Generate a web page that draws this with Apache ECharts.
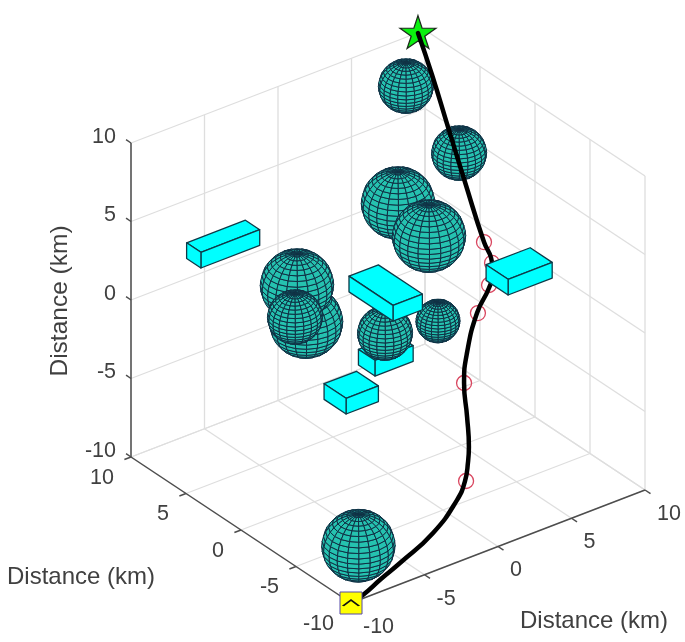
<!DOCTYPE html>
<html>
<head>
<meta charset="utf-8">
<style>html,body{margin:0;padding:0;background:#fff}#c{width:685px;height:642px;filter:blur(0.45px)}</style>
<script src="https://cdn.jsdelivr.net/npm/echarts@6/dist/echarts.min.js"></script>
</head>
<body>
<div id="c"></div>
<script>
// ---------- data (km) ----------
const tickValues = [-10, -5, 0, 5, 10];
const axisTitle = "Distance (km)";

const sphereX = [0.16, -0.83, -3.02, 5.76, 4.95, -0.18, 3.9, 7.58, -8, 7.56];
const sphereY = [8.49, 6.34, 4.42, 6.79, 2.89, 0.03, 0.67, 8.5, -8, 3.64];
const sphereZ = [-2, -3, -1, 2, 2, -1, -2, 8, -8, 6];
const sphereR = [2, 2, 1.5, 2, 2, 1.5, 1.2, 1.5, 2, 1.5];

const boxX  = [-6.95, -3.04, -0.35, -0.08, 5.55];
const boxY  = [7.72, -0.25, 0.72, -0.56, -3.5];
const boxZ  = [2, -5, -4, 0, 1];
const boxDX = [4, 2.2, 2.6, 2, 3];
const boxDY = [1.3, 2, 1.5, 4, 2];
const boxDZ = [1, 1, 1, 1, 1];

const pathX = [-10, -9.07, -7.56, -6.01, -3.55, -1.81, -1.25, -0.7, -0.4, -0.06, 0.49, 1.54, 3.04, 4.16, 4.76, 5.18, 5.4, 6.95, 7.75, 8.91, 9.5];
const pathY = [-10, -9.84, -9.46, -9.12, -8.84, -8.69, -8.67, -8.21, -7.89, -7.27, -6.26, -5.12, -4.03, -3.62, -3.18, -2.45, -1.51, 2.29, 4.9, 7.9, 9.97];
const pathZ = [-10, -9.9, -9.6, -9.3, -8.4, -7, -6, -5.2, -4.5, -3, -1.5, -0.5, 1, 2, 2.6, 3, 3.5, 5, 7, 8.5, 10];

const waypointX = [5.4, 4.9, 4.36, 3.08, 0.49, -1.2];
const waypointY = [-1.51, -2.91, -3.36, -4.06, -6.26, -8.7];
const waypointZ = [3.5, 3, 2, 1, -1.5, -6];

const startPoint = [-10, -10, -10];
const endPoint = [9.5, 9.97, 10];

// order in which the solids hide one another, back to front
const sceneOrder = [["s",1],["s",0],["s",2],["b",0],["s",3],["s",4],["b",1],["b",2],["s",5],["s",6],["b",3],["s",7],["s",8],["s",9]];
const frontSolids = [["b",4]];

// ---------- view ----------
function project(x, y, z) {
  const X = x + 10, Y = y + 10, Z = z + 10;
  return [351 + 14.7 * X - 11 * Y, 603 - 5.65 * X - 7.3 * Y - 15.7 * Z];
}
const camera = [-11, -14.7, 10.79];
const FONT = '"Liberation Sans", Arial, sans-serif';
const TEXT = '#404040';
const MESH = 20;

function segs3d() {
  const grid = [], axes = [];
  const lo = tickValues[0], hi = tickValues[tickValues.length - 1];
  tickValues.forEach(t => {
    grid.push([[t, hi, lo], [t, hi, hi]], [[lo, hi, t], [hi, hi, t]]);
    grid.push([[hi, t, lo], [hi, t, hi]], [[hi, lo, t], [hi, hi, t]]);
    grid.push([[t, lo, lo], [t, hi, lo]], [[lo, t, lo], [hi, t, lo]]);
    axes.push([[lo, hi, t], [lo, hi + 0.45, t]]);
    axes.push([[lo, t, lo], [lo - 0.45, t, lo]]);
    axes.push([[t, lo, lo], [t, lo - 0.5, lo]]);
  });
  axes.push([[lo, hi, lo], [lo, hi, hi]], [[lo, lo, lo], [lo, hi, lo]], [[lo, lo, lo], [hi, lo, lo]]);
  return {grid, axes};
}
const {grid: gridSegs, axes: axisSegs} = segs3d();

function segSeries(segs, color, width, z) {
  return {
    type: 'custom', coordinateSystem: 'cartesian2d', z, silent: true, clip: false,
    data: segs.map(s => project(...s[0]).concat(project(...s[1]))),
    encode: {x: 0, y: 1},
    renderItem(params, api) {
      const a = api.coord([api.value(0), api.value(1)]);
      const b = api.coord([api.value(2), api.value(3)]);
      return {type: 'line', shape: {x1: a[0], y1: a[1], x2: b[0], y2: b[1]},
              style: {stroke: color, lineWidth: width, fill: null}};
    }
  };
}

function sphereChildren(i, api) {
  const cx = sphereX[i], cy = sphereY[i], cz = sphereZ[i], r = sphereR[i];
  const out = [];
  const P = (th, ph) => [Math.cos(ph) * Math.cos(th), Math.cos(ph) * Math.sin(th), Math.sin(ph)];
  for (let a = 0; a < MESH; a++) {
    for (let b = 0; b < MESH; b++) {
      const t0 = -Math.PI + 2 * Math.PI * a / MESH, t1 = -Math.PI + 2 * Math.PI * (a + 1) / MESH;
      const p0 = -Math.PI / 2 + Math.PI * b / MESH, p1 = -Math.PI / 2 + Math.PI * (b + 1) / MESH;
      const n = P((t0 + t1) / 2, (p0 + p1) / 2);
      if (n[0] * camera[0] + n[1] * camera[1] + n[2] * camera[2] <= 0) continue;
      const pts = [P(t0, p0), P(t1, p0), P(t1, p1), P(t0, p1)].map(v =>
        api.coord(project(cx + r * v[0], cy + r * v[1], cz + r * v[2])));
      out.push({type: 'polygon', shape: {points: pts},
                style: {fill: '#25c2b0', stroke: '#0f3044', lineWidth: 1}});
    }
  }
  return out;
}

function boxChildren(i, api) {
  const x0 = boxX[i], y0 = boxY[i], z0 = boxZ[i];
  const x1 = x0 + boxDX[i], y1 = y0 + boxDY[i], z1 = z0 + boxDZ[i];
  const faces = [
    [[x0,y0,z1],[x1,y0,z1],[x1,y1,z1],[x0,y1,z1]],
    [[x0,y0,z0],[x1,y0,z0],[x1,y0,z1],[x0,y0,z1]],
    [[x0,y0,z0],[x0,y1,z0],[x0,y1,z1],[x0,y0,z1]]
  ];
  return faces.map(f => ({type: 'polygon',
    shape: {points: f.map(v => api.coord(project(v[0], v[1], v[2])))},
    style: {fill: '#00ffff', stroke: '#0e3a48', lineWidth: 1.3, lineJoin: 'round'}}));
}

function solidSeries(list, z) {
  return {
    type: 'custom', coordinateSystem: 'cartesian2d', z, silent: true, clip: false,
    data: list.map(([k, i]) => {
      const c = k === 's' ? project(sphereX[i], sphereY[i], sphereZ[i]) : project(boxX[i], boxY[i], boxZ[i]);
      return [c[0], c[1], k === 's' ? 0 : 1, i];
    }),
    encode: {x: 0, y: 1},
    renderItem(params, api) {
      const i = api.value(3);
      return {type: 'group', children: api.value(2) === 0 ? sphereChildren(i, api) : boxChildren(i, api)};
    }
  };
}

function labelSeries(points, offset, align) {
  return {
    type: 'custom', coordinateSystem: 'cartesian2d', z: 7, silent: true, clip: false,
    data: points.map(p => { const c = project(...p.at); return [c[0], c[1], p.v]; }),
    encode: {x: 0, y: 1},
    renderItem(params, api) {
      const c = api.coord([api.value(0), api.value(1)]);
      return {type: 'text', x: c[0] + offset[0], y: c[1] + offset[1],
        style: {text: String(api.value(2)), fontFamily: FONT, fontSize: 21.5, fill: TEXT, align, verticalAlign: 'middle'}};
    }
  };
}

const lo = tickValues[0], hi = tickValues[tickValues.length - 1];
const STAR = 'path://M50 0L61 35L98 35L68 57L79 91L50 70L21 91L32 57L2 35L39 35Z';

const option = {
  animation: false,
  backgroundColor: '#fff',
  grid: {left: 0, right: 0, top: 0, bottom: 0},
  xAxis: {type: 'value', min: 0, max: 685, show: false},
  yAxis: {type: 'value', min: 0, max: 642, inverse: true, show: false},
  graphic: [
    {type: 'text', x: 81, y: 577, style: {text: axisTitle, fontFamily: FONT, fontSize: 24, fill: TEXT, align: 'center', verticalAlign: 'middle'}},
    {type: 'text', x: 594, y: 621, style: {text: axisTitle, fontFamily: FONT, fontSize: 24, fill: TEXT, align: 'center', verticalAlign: 'middle'}},
    {type: 'text', x: 60, y: 301, rotation: Math.PI / 2, style: {text: axisTitle, fontFamily: FONT, fontSize: 24.5, fill: TEXT, align: 'center', verticalAlign: 'middle'}}
  ],
  series: [
    segSeries(gridSegs, '#dedede', 1.3, 1),
    segSeries(axisSegs, '#4d4d4d', 1.5, 1),
    solidSeries(sceneOrder, 2),
    {type: 'scatter', z: 3, silent: true, symbol: 'circle', symbolSize: 15,
     itemStyle: {opacity: 1, color: 'rgba(0,0,0,0)', borderColor: '#d9465f', borderWidth: 1.3},
     data: waypointX.map((x, i) => project(x, waypointY[i], waypointZ[i]))},
    {type: 'scatter', z: 3, silent: true, symbol: STAR, symbolSize: [36, 33], symbolOffset: [0, -1],
     itemStyle: {opacity: 1, color: '#0bf00f', borderColor: '#1c2a1c', borderWidth: 1.2},
     data: [project(...endPoint)]},
    {type: 'line', z: 4, silent: true, showSymbol: false, smooth: 0.5,
     lineStyle: {color: '#000', width: 4.5, cap: 'round'},
     data: pathX.map((x, i) => project(x, pathY[i], pathZ[i]))},
    solidSeries(frontSolids, 5),
    {type: 'scatter', z: 6, silent: true, symbol: 'rect', symbolSize: 22,
     itemStyle: {opacity: 1, color: '#ffff00', borderColor: '#5548a8', borderWidth: 1},
     data: [project(...startPoint)]},
    {type: 'scatter', z: 7, silent: true, symbol: 'path://M0 6L8 0L16 6', symbolSize: [16, 6],
     itemStyle: {opacity: 1, color: 'rgba(0,0,0,0)', borderColor: '#111', borderWidth: 1.5},
     data: [project(...startPoint)]},
    labelSeries(tickValues.map(v => ({v, at: [lo, hi, v]})), [-15, -6], 'right'),
    labelSeries(tickValues.map(v => ({v, at: [lo, v, lo]})), [-17, 21], 'right'),
    labelSeries(tickValues.map(v => ({v, at: [v, lo, lo]})), [12, 24], 'left')
  ]
};
echarts.init(document.getElementById('c'), null, {renderer: 'canvas'}).setOption(option);
</script>
</body>
</html>
